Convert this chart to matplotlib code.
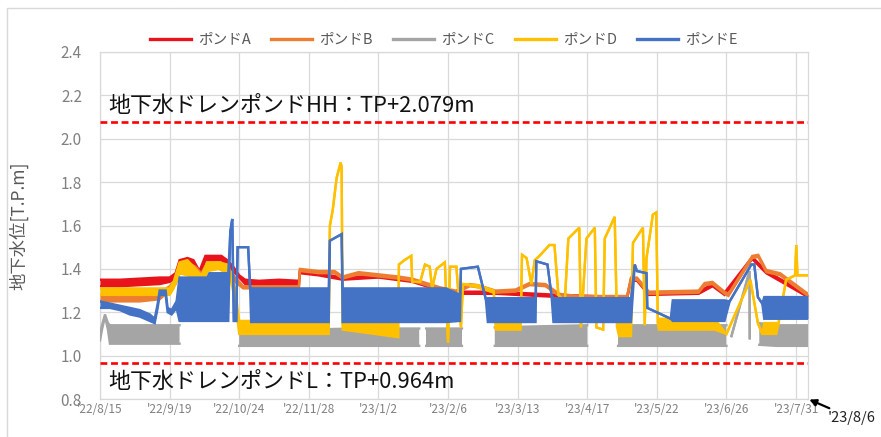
import numpy as np
import matplotlib
matplotlib.use("Agg")
import matplotlib.pyplot as plt
from matplotlib.patches import Rectangle

plt.rcParams['font.family'] = ['Noto Sans CJK JP', 'DejaVu Sans']

# ---------------- data ----------------
tick_labels = ["'22/8/15", "'22/9/19", "'22/10/24", "'22/11/28", "'23/1/2", "'23/2/6",
               "'23/3/13", "'23/4/17", "'23/5/22", "'23/6/26", "'23/7/31"]
end_label = "'23/8/6"
x_end_day = 356          # days after '22/8/15
hh_level = 2.079
l_level = 0.964
hh_text = "地下水ドレンポンドHH：TP+2.079m"
l_text = "地下水ドレンポンドL：TP+0.964m"
series_names = ["ポンドA", "ポンドB", "ポンドC", "ポンドD", "ポンドE"]

# ポンドA (red)  - days after '22/8/15, low/high envelope of the readings
a_days = [0, 10, 20, 30, 35, 38, 40, 44, 47, 50, 53, 57, 61, 64, 67, 70, 73, 80, 90, 100,
          100.5, 110, 122, 140, 157, 171, 179, 199, 231, 265, 267, 270, 276, 301, 308, 314, 328, 335, 356]
a_lo = [1.32, 1.32, 1.325, 1.33, 1.34, 1.36, 1.42, 1.43, 1.42, 1.37, 1.44, 1.44, 1.44, 1.42, 1.39, 1.36, 1.33, 1.32, 1.325, 1.32,
        1.38, 1.37, 1.35, 1.36, 1.34, 1.30, 1.285, 1.285, 1.27, 1.26, 1.345, 1.345, 1.28, 1.285, 1.32, 1.28, 1.445, 1.38, 1.27]
a_hi = [1.35, 1.35, 1.355, 1.36, 1.36, 1.38, 1.44, 1.45, 1.44, 1.39, 1.46, 1.46, 1.46, 1.44, 1.41, 1.37, 1.35, 1.345, 1.35, 1.345,
        1.39, 1.38, 1.36, 1.37, 1.35, 1.31, 1.295, 1.295, 1.28, 1.27, 1.355, 1.355, 1.29, 1.295, 1.33, 1.29, 1.455, 1.39, 1.28]

# ポンドB (orange)
b_days = [0, 20, 30, 35, 38, 40, 44, 48, 51, 54, 60, 64, 68, 72, 100, 100.5, 110, 118, 122, 130,
          140, 150, 157, 171, 179, 186, 190, 199, 209, 216, 224, 231, 240, 265, 267, 270, 276, 301, 304, 308,
          314, 316, 328, 331, 335, 342, 356]
b_lo = [1.25, 1.25, 1.26, 1.30, 1.33, 1.38, 1.38, 1.37, 1.36, 1.40, 1.40, 1.38, 1.34, 1.31, 1.31, 1.39, 1.38, 1.38, 1.355, 1.375,
        1.365, 1.355, 1.345, 1.305, 1.29, 1.32, 1.315, 1.29, 1.295, 1.325, 1.32, 1.275, 1.265, 1.265, 1.35, 1.35, 1.285, 1.29, 1.325, 1.33,
        1.285, 1.275, 1.45, 1.455, 1.385, 1.37, 1.275]
b_hi = [1.28, 1.28, 1.29, 1.32, 1.35, 1.42, 1.43, 1.41, 1.38, 1.43, 1.43, 1.40, 1.36, 1.32, 1.32, 1.40, 1.39, 1.39, 1.365, 1.385,
        1.375, 1.365, 1.355, 1.315, 1.30, 1.33, 1.325, 1.30, 1.305, 1.335, 1.33, 1.285, 1.275, 1.275, 1.36, 1.36, 1.295, 1.30, 1.335, 1.34,
        1.295, 1.285, 1.46, 1.465, 1.395, 1.38, 1.285]

# ポンドC (gray), nan = no data
nan = np.nan
c_days = [0, 1, 2.5, 4, 5, 20, 40, 41, 70, 100, 130, 160.5, 161, 164, 182, 182.5, 198.5, 220, 245, 245.5,
          260.5, 290, 315, 316, 317.5, 326.6, 326.7, 327.5, 331.5, 340, 356]
c_lo = [1.07, 1.12, 1.18, 1.12, 1.055, 1.055, 1.055, nan, 1.045, 1.045, 1.045, 1.045, nan, 1.045, 1.045, nan, 1.045, 1.045, 1.045, nan,
        1.045, 1.045, 1.045, nan, 1.09, 1.39, 1.08, nan, 1.05, 1.045, 1.045]
c_hi = [1.10, 1.14, 1.19, 1.15, 1.14, 1.14, 1.14, nan, 1.11, 1.12, 1.125, 1.125, nan, 1.125, 1.125, nan, 1.13, 1.135, 1.14, nan,
        1.14, 1.14, 1.14, nan, 1.09, 1.39, 1.08, nan, 1.15, 1.14, 1.14]

# ポンドD (yellow)
d_days = [0, 35, 37, 40, 44, 48, 51, 54, 60, 64, 66, 68, 70, 115, 115.6, 117, 119, 121, 121.5, 122,
          150, 150.3, 153, 156.5, 157, 161, 163.4, 165.8, 167, 169.2, 173.4, 175, 176, 179.2, 181.5, 182.5, 190, 198, 199, 211.5,
          212.2, 214.5, 216.9, 218.6, 221, 226, 228.5, 230.5, 233.7, 235.5, 241, 241.8, 244.6, 248.8, 249.6, 253, 253.8, 258.8, 260, 261,
          267, 268, 273, 273.9, 274.8, 278, 279.7, 280.5, 281, 309, 315, 327, 330.8, 333, 334, 340, 341, 345, 349.5, 350.1,
          350.7, 356]
d_lo = [1.28, 1.28, 1.31, 1.38, 1.37, 1.36, 1.30, 1.39, 1.40, 1.38, 1.34, 1.25, 1.10, 1.10, 1.60, 1.67, 1.82, 1.89, 1.87, 1.12,
        1.085, 1.42, 1.44, 1.46, 1.34, 1.34, 1.42, 1.41, 1.31, 1.40, 1.43, 1.06, 1.41, 1.41, 1.13, 1.33, 1.315, 1.29, 1.12, 1.12,
        1.465, 1.45, 1.33, 1.44, 1.46, 1.51, 1.51, 1.28, 1.25, 1.54, 1.59, 1.13, 1.54, 1.59, 1.13, 1.12, 1.54, 1.64, 1.13, 1.09,
        1.09, 1.52, 1.59, 1.14, 1.45, 1.65, 1.66, 1.15, 1.12, 1.12, 1.10, 1.35, 1.15, 1.10, 1.10, 1.10, 1.14, 1.35, 1.37, 1.51,
        1.37, 1.37]
d_hi = [1.31, 1.31, 1.34, 1.43, 1.44, 1.40, 1.37, 1.43, 1.43, 1.42, 1.38, 1.30, 1.16, 1.16, 1.60, 1.67, 1.82, 1.89, 1.87, 1.15,
        1.155, 1.42, 1.44, 1.46, 1.34, 1.34, 1.42, 1.41, 1.31, 1.40, 1.43, 1.06, 1.41, 1.41, 1.13, 1.33, 1.325, 1.30, 1.15, 1.15,
        1.465, 1.45, 1.33, 1.44, 1.46, 1.51, 1.51, 1.28, 1.25, 1.54, 1.59, 1.13, 1.54, 1.59, 1.13, 1.12, 1.54, 1.64, 1.13, 1.15,
        1.15, 1.52, 1.59, 1.14, 1.45, 1.65, 1.66, 1.15, 1.17, 1.17, 1.10, 1.35, 1.15, 1.10, 1.15, 1.15, 1.14, 1.35, 1.37, 1.51,
        1.37, 1.37]

# ポンドE (blue)
e_days = [0, 5, 10, 15, 20, 25, 27.5, 29, 30, 33, 34, 36, 38.5, 40, 54, 55, 64.5, 65.5, 66.5, 67.3,
          68.5, 69.2, 74.5, 75.5, 76, 115, 115.6, 121.5, 122, 174, 181, 181.5, 190, 194, 195, 219, 219.4, 225, 227, 228,
          267, 268.9, 270, 274.8, 275.2, 287, 288, 314, 316.6, 327.5, 329, 330.8, 333, 334, 356]
e_lo = [1.22, 1.22, 1.21, 1.19, 1.18, 1.16, 1.15, 1.22, 1.28, 1.28, 1.20, 1.19, 1.22, 1.16, 1.16, 1.16, 1.16, 1.57, 1.63, 1.16,
        1.16, 1.50, 1.50, 1.31, 1.155, 1.155, 1.53, 1.56, 1.155, 1.155, 1.16, 1.40, 1.41, 1.26, 1.155, 1.155, 1.435, 1.42, 1.28, 1.155,
        1.155, 1.42, 1.39, 1.38, 1.22, 1.17, 1.16, 1.16, 1.25, 1.42, 1.42, 1.27, 1.24, 1.17, 1.17]
e_hi = [1.25, 1.24, 1.23, 1.22, 1.21, 1.19, 1.17, 1.24, 1.30, 1.30, 1.22, 1.21, 1.25, 1.36, 1.36, 1.38, 1.38, 1.57, 1.63, 1.16,
        1.16, 1.50, 1.50, 1.31, 1.31, 1.31, 1.53, 1.56, 1.31, 1.31, 1.28, 1.40, 1.41, 1.26, 1.265, 1.265, 1.435, 1.42, 1.28, 1.265,
        1.265, 1.42, 1.39, 1.38, 1.22, 1.17, 1.255, 1.255, 1.25, 1.42, 1.42, 1.27, 1.24, 1.27, 1.27]

colors = ["#E8131B", "#ED7D31", "#A5A5A5", "#FFC000", "#4472C4"]

# ---------------- figure ----------------
W, H = 881, 437
fig = plt.figure(figsize=(W / 100, H / 100), dpi=100)
ax = fig.add_axes([100 / W, 1 - 399 / H, 708 / W, 347 / H])

series = [(a_days, a_lo, a_hi), (b_days, b_lo, b_hi), (c_days, c_lo, c_hi),
          (d_days, d_lo, d_hi), (e_days, e_lo, e_hi)]
handles = []
for (dd, lo, hi), col, name in zip(series, colors, series_names):
    dd = np.asarray(dd, float)
    lo = np.asarray(lo, float)
    hi = np.asarray(hi, float)
    ax.fill_between(dd, lo, hi, color=col, linewidth=0, zorder=3)
    ax.plot(dd, lo, color=col, lw=1.7, zorder=3, solid_joinstyle='miter')
    ln, = ax.plot(dd, hi, color=col, lw=1.7, zorder=3, solid_joinstyle='miter', label=name)
    handles.append(ln)

# threshold lines
for lvl in (hh_level, l_level):
    ax.axhline(lvl, color="#FF0000", lw=1.9, dashes=(2.6, 1.4), zorder=4)
ax.text(4, 2.150, hh_text, fontsize=15.8, color="#111111", va="center", ha="left", zorder=5)
ax.text(4, 0.880, l_text, fontsize=15.8, color="#111111", va="center", ha="left", zorder=5)

ax.set_xlim(0, x_end_day)
ax.set_ylim(0.8, 2.4)
ax.set_xticks(np.arange(len(tick_labels)) * 35)
ax.set_xticklabels(tick_labels, fontsize=8.5, color="#808080")
ax.set_yticks(np.round(np.arange(0.8, 2.41, 0.2), 1))
ax.set_yticklabels([f"{v:.1f}" for v in np.arange(0.8, 2.41, 0.2)], fontsize=11, color="#808080")
ax.tick_params(axis="both", length=0)
ax.tick_params(axis="y", pad=13)
ax.tick_params(axis="x", pad=3)
ax.grid(True, color="#D9D9D9", lw=0.9, zorder=0)
ax.set_axisbelow(True)
for s in ax.spines.values():
    s.set_color("#D9D9D9")
    s.set_linewidth(0.9)
ax.set_ylabel("地下水位[T.P.m]", fontsize=12.5, color="#595959")
ax.yaxis.set_label_coords(-72 / 708, 0.5)

leg = fig.legend(handles=handles, loc="center", bbox_to_anchor=(444 / W, 1 - 40 / H),
                 ncol=5, frameon=False, fontsize=10.5, handlelength=2.8, handletextpad=0.5,
                 columnspacing=1.4, labelcolor="#595959")
for lh in leg.get_lines():
    lh.set_linewidth(2.4)

# outer chart frame
fig.patches.append(Rectangle((7 / W, -0.2), 1.2, 1.2 - 8 / H, transform=fig.transFigure,
                             fill=False, edgecolor="#D9D9D9", lw=1.0))

# cut-off title (only its lower edge shows at the top of the image)
fig.text(113 / W, 1.0 + 2 / H, "地下水ドレンポンド水位", fontsize=18, color="#222222",
         ha="left", va="baseline")

# end-date annotation
ax.annotate(end_label, xy=(x_end_day, 0.8), xycoords="data",
            xytext=(828 / W, 1 - 418 / H), textcoords="figure fraction",
            fontsize=10.5, color="#222222", va="center", ha="left",
            arrowprops=dict(arrowstyle="-|>", color="black", lw=1.6, mutation_scale=10,
                            shrinkA=0, shrinkB=1), annotation_clip=False)

fig.savefig("out.png", dpi=100)
